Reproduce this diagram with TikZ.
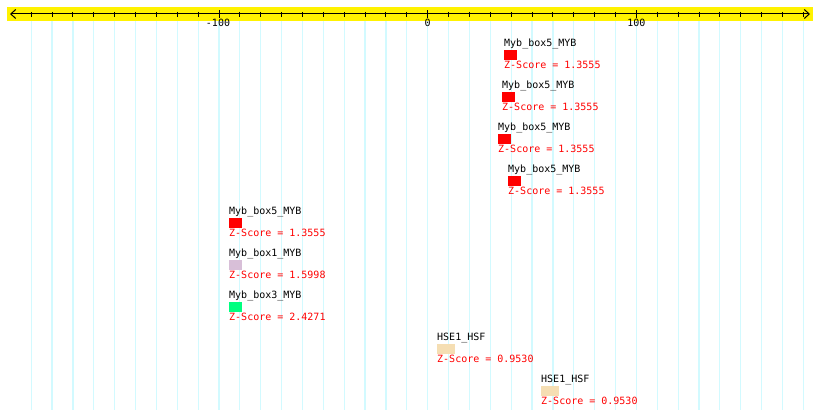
\documentclass[tikz,border=0pt]{standalone}
\usepackage{fontspec}
\setmonofont{DejaVu Sans Mono}
\usetikzlibrary{arrows.meta,positioning}
\definecolor{gridcyan}{HTML}{D2FAFF}
\definecolor{thistle}{HTML}{D8BFD8}
\definecolor{springgreen}{HTML}{00FF7F}
\definecolor{wheat}{HTML}{F5DEB3}
\begin{document}
\begin{tikzpicture}[
  x=1pt, y=-1pt,
  lbl/.style={font=\fontsize{10}{12}\selectfont\ttfamily, inner sep=0pt},
  score/.style={lbl, text=red},
  site/.style={draw=none, inner sep=0pt, minimum height=10pt, anchor=north west},
  axis/.style={{Straight Barb[length=5pt,width=9pt]}-{Straight Barb[length=5pt,width=9pt]}, line width=1pt}
]
\useasboundingbox[fill=white] (0,0) rectangle (820,419);

% ruler
\fill[yellow] (7,7) rectangle (813,21);
\foreach \v in {-190,-180,...,180}
  \draw[gridcyan, line width=1.2pt] ({427.7+2.087*\v},21) -- ({427.7+2.087*\v},410);
\coordinate (axl) at (10,14);
\coordinate (axr) at (810,14);
\draw[axis] (axl) -- (axr);
\foreach \v in {-190,-180,...,180}
  \draw[line width=1pt] ({427.7+2.087*\v},12) -- ({427.7+2.087*\v},17);
\foreach \v in {-100,0,100}
  \draw[line width=1pt] ({427.7+2.087*\v},10.5) -- ({427.7+2.087*\v},18.5);
\node[lbl, anchor=base] (tm100) at (218.0,27) {-100};
\node[lbl, anchor=base] (t0) at (427.7,27) {0};
\node[lbl, anchor=base] (t100) at (636.4,27) {100};

% binding sites
\node[site, fill=red, minimum width=13pt] (s1) at (504,49.5) {};
\node[lbl, above=2.5pt of s1.north west, anchor=base west] (n1) {Myb\_box5\_MYB};
\node[score, below=9pt of s1.south west, anchor=base west] (z1) {Z-Score = 1.3555};

\node[site, fill=red, minimum width=13pt] (s2) at (502,91.5) {};
\node[lbl, above=2.5pt of s2.north west, anchor=base west] (n2) {Myb\_box5\_MYB};
\node[score, below=9pt of s2.south west, anchor=base west] (z2) {Z-Score = 1.3555};

\node[site, fill=red, minimum width=13pt] (s3) at (498,133.5) {};
\node[lbl, above=2.5pt of s3.north west, anchor=base west] (n3) {Myb\_box5\_MYB};
\node[score, below=9pt of s3.south west, anchor=base west] (z3) {Z-Score = 1.3555};

\node[site, fill=red, minimum width=13pt] (s4) at (508,175.5) {};
\node[lbl, above=2.5pt of s4.north west, anchor=base west] (n4) {Myb\_box5\_MYB};
\node[score, below=9pt of s4.south west, anchor=base west] (z4) {Z-Score = 1.3555};

\node[site, fill=red, minimum width=13pt] (s5) at (229,217.5) {};
\node[lbl, above=2.5pt of s5.north west, anchor=base west] (n5) {Myb\_box5\_MYB};
\node[score, below=9pt of s5.south west, anchor=base west] (z5) {Z-Score = 1.3555};

\node[site, fill=thistle, minimum width=13pt] (s6) at (229,259.5) {};
\node[lbl, above=2.5pt of s6.north west, anchor=base west] (n6) {Myb\_box1\_MYB};
\node[score, below=9pt of s6.south west, anchor=base west] (z6) {Z-Score = 1.5998};

\node[site, fill=springgreen, minimum width=13pt] (s7) at (229,301.5) {};
\node[lbl, above=2.5pt of s7.north west, anchor=base west] (n7) {Myb\_box3\_MYB};
\node[score, below=9pt of s7.south west, anchor=base west] (z7) {Z-Score = 2.4271};

\node[site, fill=wheat, minimum width=18pt] (s8) at (437,343.5) {};
\node[lbl, above=2.5pt of s8.north west, anchor=base west] (n8) {HSE1\_HSF};
\node[score, below=9pt of s8.south west, anchor=base west] (z8) {Z-Score = 0.9530};

\node[site, fill=wheat, minimum width=18pt] (s9) at (541,385.5) {};
\node[lbl, above=2.5pt of s9.north west, anchor=base west] (n9) {HSE1\_HSF};
\node[score, below=9pt of s9.south west, anchor=base west] (z9) {Z-Score = 0.9530};
\end{tikzpicture}
\end{document}
